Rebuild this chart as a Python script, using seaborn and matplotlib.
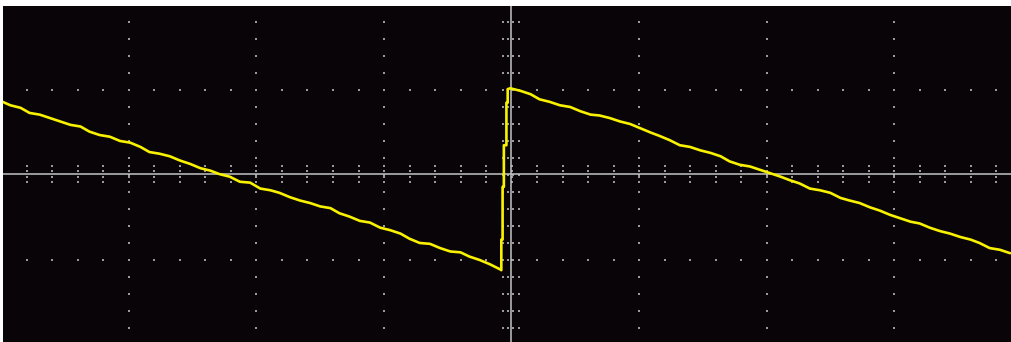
import numpy as np
import pandas as pd
import matplotlib
matplotlib.use("Agg")
import matplotlib.pyplot as plt
import seaborn as sns

# Trace readings (time in divisions, voltage in divisions)
time_div = [-3.99, -3.93, -3.85, -3.78, -3.70, -3.62, -3.54, -3.46, -3.38, -3.31,
            -3.23, -3.15, -3.07, -2.99, -2.91, -2.84, -2.76, -2.68, -2.60, -2.52,
            -2.44, -2.36, -2.29, -2.21, -2.13, -2.05, -1.97, -1.89, -1.82, -1.74,
            -1.66, -1.58, -1.50, -1.42, -1.35, -1.27, -1.19, -1.11, -1.03, -0.95,
            -0.87, -0.80, -0.72, -0.64, -0.56, -0.48, -0.40, -0.33, -0.25, -0.17,
            -0.09, -0.08, -0.08, -0.07, -0.07, -0.06, -0.06, -0.04, -0.04, -0.03,
            -0.03, -0.01, 0.07, 0.15, 0.22, 0.30, 0.38, 0.46, 0.54, 0.62,
            0.69, 0.77, 0.85, 0.93, 1.01, 1.09, 1.16, 1.24, 1.32, 1.40,
            1.48, 1.56, 1.64, 1.71, 1.79, 1.87, 1.95, 2.03, 2.11, 2.18,
            2.26, 2.34, 2.42, 2.50, 2.58, 2.65, 2.73, 2.81, 2.89, 2.97,
            3.05, 3.13, 3.20, 3.28, 3.36, 3.44, 3.52, 3.60, 3.67, 3.75,
            3.83, 3.91]
volt_div = [0.86, 0.82, 0.79, 0.73, 0.71, 0.67, 0.63, 0.59, 0.57, 0.51,
            0.47, 0.45, 0.40, 0.38, 0.33, 0.27, 0.25, 0.22, 0.17, 0.13,
            0.08, 0.05, 0.01, -0.02, -0.08, -0.09, -0.16, -0.18, -0.21, -0.26,
            -0.30, -0.33, -0.37, -0.39, -0.45, -0.49, -0.54, -0.56, -0.62, -0.65,
            -0.69, -0.75, -0.80, -0.81, -0.86, -0.90, -0.91, -0.96, -1.00, -1.05,
            -1.11, -1.12, -0.76, -0.76, -0.14, -0.14, 0.35, 0.35, 0.85, 0.85,
            1.01, 1.02, 0.99, 0.95, 0.89, 0.86, 0.82, 0.80, 0.75, 0.71,
            0.70, 0.67, 0.63, 0.60, 0.55, 0.50, 0.46, 0.41, 0.35, 0.33,
            0.29, 0.26, 0.22, 0.16, 0.12, 0.10, 0.06, 0.02, -0.02, -0.06,
            -0.10, -0.16, -0.18, -0.21, -0.27, -0.30, -0.33, -0.38, -0.42, -0.47,
            -0.51, -0.55, -0.57, -0.62, -0.66, -0.69, -0.73, -0.76, -0.80, -0.86,
            -0.88, -0.92]

# Graticule
major_x = [-3, -2, -1, 1, 2, 3]
major_y = [-1, 1]
minor_step_x = 0.2
minor_step_y = 0.2

bg = "#080408"
trace_color = "#f8f200"
dot_color = "#9a9a9a"
axis_color = "#c4c4c4"

sns.set_theme(style="dark")
fig = plt.figure(figsize=(10.12, 3.42), dpi=100, facecolor="white")
ax = fig.add_axes([3/1012, 0, 1 - 3/1012, 336/342])
ax.set_facecolor(bg)
xlim = (-3.988, 3.925)
ylim = (-1.965, 1.988)

# dotted grid
gx, gy = [], []
yv = np.arange(-1.8, 1.81, minor_step_y)
for mx in major_x:
    for yy in yv:
        gx.append(mx); gy.append(yy)
xv = np.arange(-3.8, 3.81, minor_step_x)
for my in major_y:
    for xx in xv:
        gx.append(xx); gy.append(my)
# center-axis ticks
for yy in yv:
    for off in (-0.06, -0.02, 0.02, 0.06):
        gx.append(off - 0.005); gy.append(yy)
for xx in xv:
    for off in (-0.095, -0.032, 0.032, 0.095):
        gx.append(xx); gy.append(off + 0.01)
dots = pd.DataFrame({"x": gx, "y": gy})
sns.scatterplot(data=dots, x="x", y="y", ax=ax, color=dot_color, s=2.2,
                marker="s", linewidth=0, zorder=1)

ax.axhline(0.01, color=axis_color, lw=1.1, zorder=2)
ax.axvline(-0.005, color=axis_color, lw=1.1, zorder=2)

trace = pd.DataFrame({"t": time_div, "v": volt_div})
sns.lineplot(data=trace, x="t", y="v", ax=ax, sort=False, estimator=None,
             color=trace_color, lw=1.9, zorder=3)

ax.set_xlim(*xlim)
ax.set_ylim(*ylim)
ax.set_xticks([]); ax.set_yticks([])
ax.set_xlabel(""); ax.set_ylabel("")
ax.grid(False)
for s in ax.spines.values():
    s.set_visible(False)

fig.savefig("out.png", dpi=100, facecolor="white")
